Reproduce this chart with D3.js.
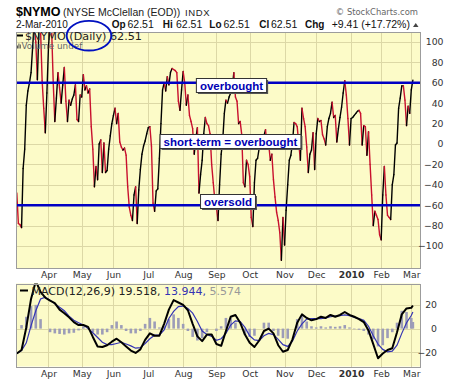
<!DOCTYPE html>
<html lang="en">
<head>
<meta charset="UTF-8">
<title>$NYMO</title>
<style>
  body { margin: 0; background: #fff; }
  svg { display: block; font-family: "Liberation Sans", Arial, sans-serif; }
  .grid line { stroke: #dcd8a6; stroke-width: 1; shape-rendering: crispEdges; }
  .frame { fill: none; stroke: #9c9c9c; shape-rendering: crispEdges; }
  .verd { font-family: "DejaVu Sans", Verdana, sans-serif; }
</style>
</head>
<body>
<div class="warp"></div>
<script src="https://cdnjs.cloudflare.com/ajax/libs/d3/7.8.5/d3.min.js"></script>
<script>
  // trading calendar of the chart (weekdays minus NYSE holidays)
  var firstSession = '2009-03-04';
  var lastSession = '2010-03-02';
  var holidays = ['2009-04-10', '2009-05-25', '2009-07-03', '2009-09-07', '2009-11-26',
    '2009-12-25', '2010-01-01', '2010-01-18', '2010-02-15'];

  // $NYMO close, one value per session
  var nymoMar = [-48, -78, -79, -82, -24, -5, 38, 52, 60, 70, 95, 118, 100, 63, 115, 112, 62, 35, 11, 50];
  var nymoApr = [95, 118, 112, 60, 22, 45, 70, 55, 40, 58, 75, 42, 22, 43, 38, 44, 48, 58, 24, 22, 48];
  var nymoMay = [46, 68, 53, 57, 50, 54, 17, -5, -42, -22, -35, 0, 4, -28, 1, -28, -26, -5, 8, 20];
  var nymoJun = [28, 35, 20, 30, 2, -3, -6, -4, -11, -42, -62, -70, -75, -50, -42, -78, -45, -25, -10, -2, 3, 10];
  var nymoJul = [16, 17, -2, -58, -66, -46, -44, -14, 20, 53, 60, 52, 66, 58, 70, 74, 73, 72, 70, 42, 33, 53];
  var nymoAug = [71, 60, 38, 48, 28, 22, 15, -10, 5, 16, -48, -30, -16, 10, 26, 20, 18, 10, -20, -38, -55];
  var nymoSep = [-62, -75, -40, -10, 4, 30, 43, 40, 46, 50, 55, 70, 46, 42, 20, 22, 9, -38, -42, -16, -20];
  var nymoOct = [-32, -72, -81, -38, -16, -14, -4, 4, 4, 8, 14, -3, 0, -16, -10, -35, -52, -67, -75, -87, -114, -72];
  var nymoNov = [-99, -65, -40, -16, -11, 1, 21, 20, 17, 0, -16, 35, 25, 17, -3, -28, -10, -6, 11, -25];
  var nymoDec = [10, 25, 22, 23, 9, 5, -1, 17, 25, 30, 41, 26, 28, 2, 15, 26, 36, 50, 62, 48, 25, -1];
  var nymoJan = [25, 26, 28, 30, 32, 33, 30, -1, 18, 17, -11, 12, -20, -50, -80, -66, -70, -74, -89];
  var nymoFeb = [-94, -50, -22, -50, -70, -72, -74, -40, -30, -1, 1, 35, 45, 57, 57, 43, 18, 37, 30];
  var nymoMar10 = [53.1, 62.51];

  // MACD(12,26,9), read every 3rd session, plus the last one
  var macdEvery = 3;
  var macd = [-21, -18, 1, 25, 40, 31, 26, 23.5, 21.5, 16,
    13, 9.5, 5.5, 3, 3, 1.5, -7, -15, -15.5, -14,
    -11, -8.5, -11.5, -15, -18.5, -20.5, -17.5, -9.5, -4, -6,
    -6, 4, 16, 24, 22, 20, 15.5, 4, -6.5, -10.5,
    -5, -5, -13, -14.5, -2, 10, 11.5, 5, -5, -12,
    -15.5, -10, -2, 0, -4, -14, -19.5, -18, -9, 5,
    12, 9, 7, 8, 10, 9, 11.5, 10, 11.5, 14,
    11.5, 10, 8, 5.5, -1.5, -13, -25, -21, -18, -16.5,
    -3, 12, 17, 17.5, 19.518];
  var signal = [-21, -18.5, -12, 2.5, 15, 25, 26.5, 24, 21, 18,
    15, 10.5, 7, 5, 3, 0, -3.5, -7.5, -11.5, -13.5,
    -13.5, -12.5, -11.5, -13, -14.5, -16.5, -16, -12.5, -8.5, -5.5,
    -5.5, -1, 8.5, 14.5, 18.5, 19, 17, 13, 6, -2,
    -5, -6.5, -9.8, -8.5, -4, 3, 6.5, 6, 1, -6,
    -9.5, -10, -6, -4, -5, -9, -13.5, -15, -10.5, -2,
    4, 8, 8.5, 8.5, 8.5, 9, 10, 10.5, 11, 11.5,
    11, 9.5, 8.5, 7, 2, -6, -13, -17.5, -19.5, -19,
    -14, -4, 5, 11, 13.944];
  var hist = [0, 3, 10, 19, 20, 8, 0, -3, -4, -4.5,
    -5, -4, -3.5, -1.5, 2, 0, -3, -5, -5, -3,
    3, 6, 3, -2, -4, -4, -2, 4, 9, 6,
    1, 2, 8, 12, 9, 4, -2, -7, -10, -8,
    -3, 0, -2, 2, 9, 9, 5, 0, -5, -7,
    -6, 0, 5, 5, -2, -6, -8, -8.5, 0, 8,
    11, 6, 2, 1, 2, 1, 2, 1.5, 2, 3,
    1, -0.5, -1, -2, -5, -9, -15, -14, -8, -3,
    5, 15, 14, 9, 5.574];

  var monthLabels = ['Apr', 'May', 'Jun', 'Jul', 'Aug', 'Sep', 'Oct', 'Nov', 'Dec', '2010', 'Feb', 'Mar'];
  var nymoTicks = [100, 80, 60, 40, 20, 0, -20, -40, -60, -80, -100];
  var macdTicks = [20, 0, -20];
  var levels = [60, -60];

  // ---------- build ----------
  var parse = d3.timeParse('%Y-%m-%d'), fmt = d3.timeFormat('%Y-%m-%d');
  var sessions = d3.timeDay.range(parse(firstSession), d3.timeDay.offset(parse(lastSession), 1))
    .filter(function (d) { return d.getDay() % 6 !== 0 && holidays.indexOf(fmt(d)) < 0; });

  var nymo = [].concat(nymoMar, nymoApr, nymoMay, nymoJun, nymoJul, nymoAug, nymoSep,
    nymoOct, nymoNov, nymoDec, nymoJan, nymoFeb, nymoMar10);
  if (nymo.length !== sessions.length) throw new Error('nymo ' + nymo.length + ' vs ' + sessions.length);

  var macdIdx = d3.range(0, sessions.length - 1, macdEvery).concat([sessions.length - 1]);
  if (macd.length !== macdIdx.length) throw new Error('macd ' + macd.length + ' vs ' + macdIdx.length);

  var monthIdx = [];
  sessions.forEach(function (d, i) {
    if (i > 0 && d.getMonth() !== sessions[i - 1].getMonth()) monthIdx.push(i);
  });

  var W = 461, H = 383;
  var main = { left: 16, right: 420, top: 32, bottom: 268 };
  var lower = { left: 16, right: 420, top: 283.5, bottom: 366.5 };

  var x = d3.scaleLinear().domain([-0.5, sessions.length + 3.5]).range([main.left, main.right]);
  var y = d3.scaleLinear().domain([-121.6, 109.8]).range([main.bottom, main.top]);
  var y2 = d3.scaleLinear().domain([-31.9, 38]).range([lower.bottom, lower.top]);

  var svg = d3.select('.warp').append('svg').attr('width', W).attr('height', H);
  svg.append('rect').attr('width', W).attr('height', H).attr('fill', '#fff');
  var defs = svg.append('defs');

  function panel(box, yScale, ticks, id) {
    defs.append('clipPath').attr('id', id).append('rect')
      .attr('x', box.left).attr('y', box.top)
      .attr('width', box.right - box.left).attr('height', box.bottom - box.top);
    var g = svg.append('g');
    g.append('rect')
      .attr('x', box.left).attr('y', box.top)
      .attr('width', box.right - box.left).attr('height', box.bottom - box.top)
      .attr('fill', '#fcfbc8');
    var grid = g.append('g').attr('class', 'grid');
    grid.selectAll('line.h').data(ticks).enter().append('line').attr('class', 'h')
      .attr('x1', box.left).attr('x2', box.right)
      .attr('y1', function (d) { return Math.round(yScale(d)) + 0.5; })
      .attr('y2', function (d) { return Math.round(yScale(d)) + 0.5; });
    grid.selectAll('line.v').data(monthIdx).enter().append('line').attr('class', 'v')
      .attr('x1', function (d) { return Math.round(x(d)) + 0.5; })
      .attr('x2', function (d) { return Math.round(x(d)) + 0.5; })
      .attr('y1', box.top).attr('y2', box.bottom);
    return g.append('g').attr('clip-path', 'url(#' + id + ')');
  }

  // ---- main panel ----
  var plot = panel(main, y, nymoTicks, 'clipMain');
  var pts = nymo.map(function (v, i) { return { i: i, v: v }; });
  plot.selectAll('line.seg').data(d3.pairs(pts)).enter().append('line')
    .attr('class', 'seg')
    .attr('x1', function (d) { return x(d[0].i); })
    .attr('y1', function (d) { return y(d[0].v); })
    .attr('x2', function (d) { return x(d[1].i); })
    .attr('y2', function (d) { return y(d[1].v); })
    .attr('stroke', function (d) { return d[1].v >= d[0].v ? '#000' : '#c8102e'; })
    .attr('stroke-width', 1.4)
    .attr('stroke-linecap', 'round');

  plot.selectAll('line.level').data(levels).enter().append('line')
    .attr('class', 'level')
    .attr('x1', main.left).attr('x2', main.right)
    .attr('y1', function (d) { return y(d); }).attr('y2', function (d) { return y(d); })
    .attr('stroke', '#0000c4').attr('stroke-width', 2.6);

  // annotation boxes
  var notes = [
    { text: 'overbought', cx: 231.5, cy: 85.5 },
    { text: 'short-term = overbought', cx: 230.5, cy: 141.5 },
    { text: 'oversold', cx: 228, cy: 201.5 }
  ];
  notes.forEach(function (n) {
    var g = svg.append('g');
    var t = g.append('text').text(n.text)
      .attr('x', n.cx).attr('y', n.cy + 4)
      .attr('text-anchor', 'middle')
      .attr('font-weight', 'bold').attr('font-size', 11.5)
      .attr('fill', '#0000b4');
    var w = t.node().getComputedTextLength() + 7, h = 14;
    g.insert('rect', 'text').attr('x', n.cx - w / 2 + 1.5).attr('y', n.cy - h / 2 + 1.5)
      .attr('width', w).attr('height', h).attr('fill', '#555');
    g.insert('rect', 'text').attr('x', n.cx - w / 2).attr('y', n.cy - h / 2)
      .attr('width', w).attr('height', h).attr('fill', '#fff')
      .attr('stroke', '#333').attr('stroke-width', 1);
  });

  svg.append('rect').attr('class', 'frame')
    .attr('x', main.left + 0.5).attr('y', main.top + 0.5)
    .attr('width', main.right - main.left).attr('height', main.bottom - main.top);

  // legend in main panel
  svg.append('line').attr('x1', 17).attr('x2', 23).attr('y1', 35.5).attr('y2', 35.5)
    .attr('stroke', '#000').attr('stroke-width', 2);
  svg.append('text').attr('class', 'verd').attr('x', 25).attr('y', 39.5)
    .attr('font-size', 11.2).attr('fill', '#222').text('$NYMO (Daily) 62.51');
  svg.selectAll('rect.vol').data([3, 5, 4]).enter().append('rect').attr('class', 'vol')
    .attr('x', function (d, i) { return 17 + i * 1.4; }).attr('y', function (d) { return 48.5 - d; })
    .attr('width', 1).attr('height', function (d) { return d; }).attr('fill', '#555');
  svg.append('text').attr('class', 'verd').attr('x', 21.5).attr('y', 49)
    .attr('font-size', 8.8).attr('fill', '#666').text('Volume undef');

  // ---- MACD panel ----
  var low = panel(lower, y2, macdTicks, 'clipLow');
  low.selectAll('rect.bar').data(hist).enter().append('rect').attr('class', 'bar')
    .attr('x', function (d, i) { return x(macdIdx[i]) - 1.3; })
    .attr('width', 2.6)
    .attr('y', function (d) { return y2(Math.max(0, d)); })
    .attr('height', function (d) { return Math.abs(y2(d) - y2(0)); })
    .attr('fill', '#9c9cb8');
  var lineGen = function (vals) {
    return d3.line().x(function (d, i) { return x(macdIdx[i]); })
      .y(function (d) { return y2(d); })(vals);
  };
  low.append('path').attr('d', lineGen(signal)).attr('fill', 'none')
    .attr('stroke', '#3434b4').attr('stroke-width', 1.2);
  low.append('path').attr('d', lineGen(macd)).attr('fill', 'none')
    .attr('stroke', '#000').attr('stroke-width', 2).attr('stroke-linejoin', 'round');
  svg.append('rect').attr('class', 'frame')
    .attr('x', lower.left + 0.5).attr('y', lower.top + 0.5)
    .attr('width', lower.right - lower.left).attr('height', lower.bottom - lower.top);

  svg.append('line').attr('x1', 20).attr('x2', 28).attr('y1', 290.5).attr('y2', 290.5)
    .attr('stroke', '#000').attr('stroke-width', 2);
  var leg = svg.append('text').attr('class', 'verd').attr('x', 31.5).attr('y', 294.5)
    .attr('font-size', 11);
  leg.append('tspan').attr('fill', '#222').text('MACD(12,26,9) 19.518, ');
  leg.append('tspan').attr('fill', '#3434b4').text('13.944, ');
  leg.append('tspan').attr('fill', '#999').text('5.574');

  // ---- axes ----
  function valueAxis(scale, ticks, xPos) {
    svg.append('g').attr('transform', 'translate(' + xPos + ',0)')
      .call(d3.axisLeft(scale).tickValues(ticks).tickSize(0).tickPadding(0))
      .call(function (g) { g.select('.domain').remove(); })
      .attr('font-family', '"DejaVu Sans", Verdana, sans-serif')
      .attr('font-size', 9.3)
      .selectAll('text').attr('fill', '#333');
  }
  valueAxis(y, nymoTicks, 443.5);
  valueAxis(y2, macdTicks, 437);

  function monthAxis(yPos) {
    svg.append('g').attr('transform', 'translate(0,' + yPos + ')')
      .call(d3.axisBottom(x).tickValues(monthIdx)
        .tickFormat(function (d, i) { return monthLabels[i]; })
        .tickSize(0).tickPadding(0))
      .call(function (g) { g.select('.domain').remove(); })
      .attr('font-family', '"DejaVu Sans", Verdana, sans-serif')
      .attr('font-size', 9.2)
      .selectAll('text')
      .attr('fill', '#333')
      .attr('font-weight', function (d, i) { return monthLabels[i] === '2010' ? 'bold' : null; });
  }
  monthAxis(271.5);
  monthAxis(370.5);

  // ---- header ----
  svg.append('text').attr('x', 16).attr('y', 16).attr('font-size', 12.5)
    .attr('font-weight', 'bold').text('$NYMO');
  svg.append('text').attr('x', 63).attr('y', 16).attr('font-size', 10.5)
    .attr('fill', '#222').text('(NYSE McClellan (EOD))');
  svg.append('text').attr('x', 185).attr('y', 16).attr('font-size', 9.5)
    .attr('letter-spacing', 0.6).attr('fill', '#222').text('INDX');
  svg.append('text').attr('class', 'verd').attr('x', 418).attr('y', 15).attr('font-size', 8.4)
    .attr('text-anchor', 'end').attr('fill', '#666').text('\u00a9 StockCharts.com');

  svg.append('text').attr('x', 16).attr('y', 27.5).attr('font-size', 10)
    .attr('fill', '#111').text('2-Mar-2010');
  var quote = [
    ['Op', 111.7, true], ['62.51', 127.5], ['Hi', 162.7, true], ['62.51', 176],
    ['Lo', 209.3, true], ['62.51', 223.5], ['Cl', 259.3, true], ['62.51', 271],
    ['Chg', 305, true], ['+9.41 (+17.72%)', 331.7]
  ];
  svg.selectAll('text.quote').data(quote).enter().append('text').attr('class', 'quote')
    .attr('x', function (d) { return d[1]; }).attr('y', 27.5)
    .attr('font-size', function (d) { return d[2] ? 10 : 10.5; })
    .attr('font-weight', function (d) { return d[2] ? 'bold' : null; })
    .attr('fill', '#111')
    .text(function (d) { return d[0]; });
  svg.append('path').attr('d', 'M413,27L418.5,27L415.75,23Z').attr('fill', '#444');

  // blue ring round "(Daily)"
  svg.append('ellipse').attr('cx', 89).attr('cy', 35.7).attr('rx', 22.3).attr('ry', 14.8)
    .attr('fill', 'none').attr('stroke', '#0010c0').attr('stroke-width', 1.8);
</script>
</body>
</html>
